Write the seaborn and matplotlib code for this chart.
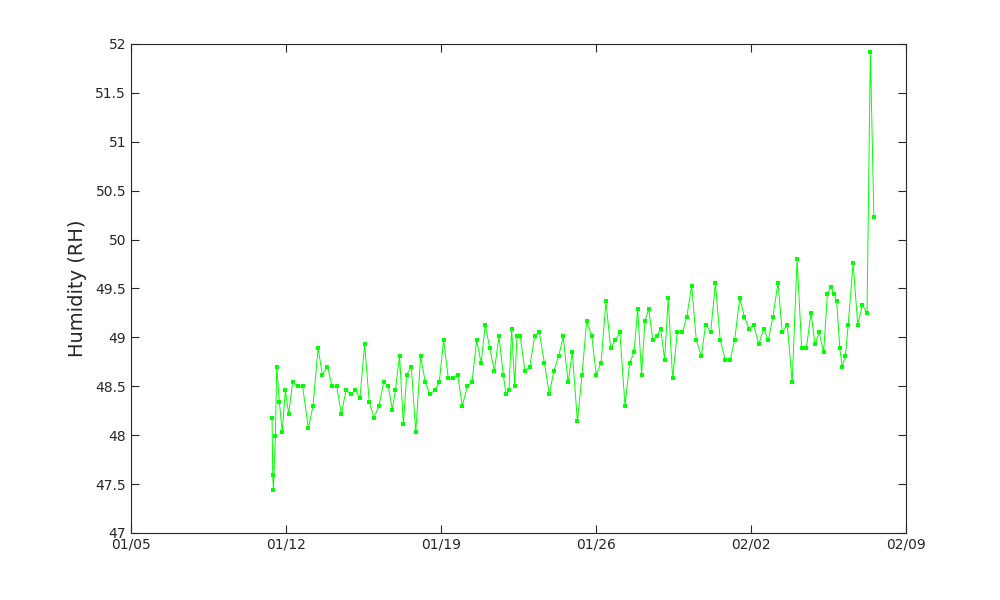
import matplotlib
matplotlib.use("Agg")
import matplotlib.pyplot as plt
import matplotlib.dates as mdates
import numpy as np
import pandas as pd
import seaborn as sns

# sample times, in days after 01/05
days = [6.37, 6.40, 6.43, 6.52, 6.58, 6.70, 6.83, 6.97, 7.12, 7.30,
        7.53, 7.75, 8.01, 8.22, 8.45, 8.64, 8.87, 9.08, 9.29, 9.50,
        9.71, 9.92, 10.13, 10.34, 10.55, 10.76, 10.97, 11.20, 11.41, 11.62,
        11.80, 11.94, 12.13, 12.30, 12.45, 12.66, 12.86, 13.08, 13.29, 13.50,
        13.72, 13.92, 14.12, 14.33, 14.54, 14.75, 14.96, 15.19, 15.40, 15.61,
        15.81, 16.00, 16.20, 16.41, 16.62, 16.81, 16.94, 17.07, 17.19, 17.33,
        17.43, 17.58, 17.79, 18.01, 18.23, 18.44, 18.67, 18.89, 19.10, 19.32,
        19.52, 19.74, 19.93, 20.16, 20.37, 20.58, 20.81, 21.01, 21.23, 21.45,
        21.66, 21.87, 22.08, 22.31, 22.52, 22.72, 22.88, 23.06, 23.21, 23.38,
        23.57, 23.74, 23.92, 24.10, 24.26, 24.46, 24.67, 24.90, 25.10, 25.32,
        25.53, 25.76, 25.95, 26.18, 26.39, 26.61, 26.84, 27.06, 27.26, 27.49,
        27.70, 27.91, 28.12, 28.35, 28.57, 28.78, 28.99, 29.22, 29.41, 29.64,
        29.86, 30.08, 30.29, 30.50, 30.71, 30.89, 31.08, 31.28, 31.45, 31.60,
        31.75, 31.87, 32.01, 32.12, 32.26, 32.39, 32.61, 32.82, 33.03, 33.24,
        33.39, 33.55]

humidity = [48.18, 47.59, 47.44, 47.99, 48.70, 48.34, 48.03, 48.46, 48.22, 48.54,
            48.50, 48.50, 48.07, 48.30, 48.89, 48.62, 48.70, 48.50, 48.50, 48.22,
            48.46, 48.42, 48.46, 48.38, 48.93, 48.34, 48.18, 48.30, 48.54, 48.50,
            48.26, 48.46, 48.81, 48.11, 48.62, 48.70, 48.03, 48.81, 48.54, 48.42,
            48.46, 48.54, 48.97, 48.58, 48.58, 48.62, 48.30, 48.50, 48.54, 48.97,
            48.74, 49.13, 48.89, 48.66, 49.01, 48.62, 48.42, 48.46, 49.09, 48.50,
            49.01, 49.01, 48.66, 48.70, 49.01, 49.05, 48.74, 48.42, 48.66, 48.81,
            49.01, 48.54, 48.85, 48.14, 48.62, 49.17, 49.01, 48.62, 48.74, 49.37,
            48.89, 48.97, 49.05, 48.30, 48.74, 48.85, 49.29, 48.62, 49.17, 49.29,
            48.97, 49.01, 49.09, 48.77, 49.40, 48.58, 49.05, 49.05, 49.21, 49.53,
            48.97, 48.81, 49.13, 49.05, 49.56, 48.97, 48.77, 48.77, 48.97, 49.40,
            49.21, 49.09, 49.13, 48.93, 49.09, 48.97, 49.21, 49.56, 49.05, 49.13,
            48.54, 49.80, 48.89, 48.89, 49.25, 48.93, 49.05, 48.85, 49.44, 49.52,
            49.44, 49.37, 48.89, 48.70, 48.81, 49.13, 49.76, 49.13, 49.33, 49.25,
            51.92, 50.23]

start = pd.Timestamp("2021-01-05")
x_ticks = pd.date_range(start, periods=6, freq="7D")
y_ticks = np.arange(47, 52.01, 0.5)

df = pd.DataFrame({
    "time": start + pd.to_timedelta(days, unit="D"),
    "humidity": humidity,
})

sns.set_style("white")
plt.rcParams["font.family"] = ["DejaVu Sans"]

fig = plt.figure(figsize=(10, 6), dpi=100)
ax = fig.add_axes([0.131, 0.1117, 0.775, 0.815])

sns.lineplot(data=df, x="time", y="humidity", ax=ax, estimator=None,
             color="#00ff00", linewidth=0.7, marker="s", markersize=2.6,
             markeredgewidth=0)

# x and y axis
ax.set_xlim(start, start + pd.Timedelta(days=35))
ax.set_ylim(47, 52)
ax.set_xticks(x_ticks)
ax.xaxis.set_major_formatter(mdates.DateFormatter("%m/%d"))
ax.set_yticks(y_ticks)
ax.set_yticklabels([f"{v:g}" for v in y_ticks])
ax.set_xlabel("")
ax.set_ylabel("Humidity (RH)", fontsize=14, color="#262626", labelpad=6)

# octave-like box with inward ticks on all sides
for s in ax.spines.values():
    s.set_color("#262626")
    s.set_linewidth(0.8)
ax.tick_params(direction="in", length=5.5, width=0.8, color="#262626",
               labelcolor="#262626", labelsize=10, top=True, right=True,
               left=True, bottom=True)

fig.savefig("out.png", dpi=100)
